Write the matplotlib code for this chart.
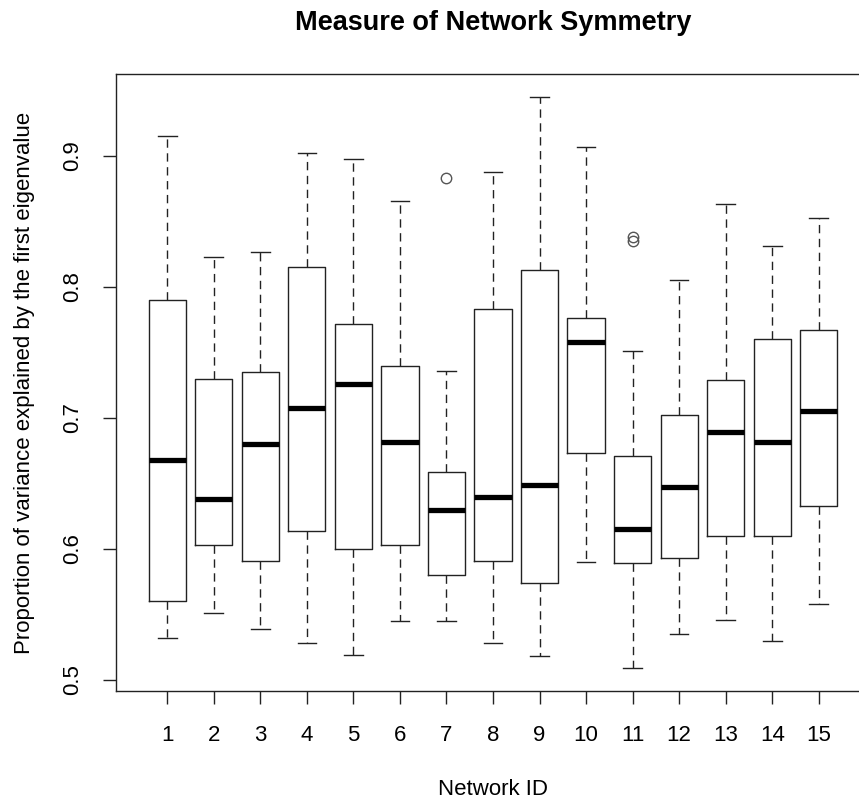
import numpy as np
import matplotlib
matplotlib.use("Agg")
import matplotlib.pyplot as plt

plt.rcParams['font.family'] = ['Liberation Sans', 'DejaVu Sans']

# five-number summaries per network
network_ids = [str(i) for i in range(1, 16)]
whisk_lo = [0.532, 0.551, 0.539, 0.528, 0.519, 0.545, 0.545, 0.528, 0.518, 0.590, 0.509, 0.535, 0.546, 0.530, 0.558]
q1 = [0.560, 0.603, 0.591, 0.614, 0.600, 0.603, 0.580, 0.591, 0.574, 0.673, 0.589, 0.593, 0.610, 0.610, 0.633]
med = [0.668, 0.638, 0.680, 0.708, 0.726, 0.682, 0.630, 0.640, 0.649, 0.758, 0.615, 0.647, 0.689, 0.682, 0.705]
q3 = [0.790, 0.730, 0.735, 0.815, 0.772, 0.740, 0.659, 0.783, 0.813, 0.776, 0.671, 0.702, 0.729, 0.760, 0.767]
whisk_hi = [0.915, 0.823, 0.827, 0.902, 0.898, 0.866, 0.736, 0.888, 0.945, 0.907, 0.751, 0.805, 0.863, 0.831, 0.853]
outliers = [[], [], [], [], [], [], [0.883], [], [], [], [0.838, 0.835], [], [], [], []]

stats = []
for i in range(len(network_ids)):
    stats.append(dict(label=network_ids[i], whislo=whisk_lo[i], q1=q1[i], med=med[i],
                      q3=q3[i], whishi=whisk_hi[i], fliers=outliers[i]))

W, H = 859, 802
fig = plt.figure(figsize=(W / 100, H / 100), dpi=100)
# plot region runs past the right edge of the figure
ax = fig.add_axes([116 / W, (H - 691) / H, (870 - 116) / W, (691 - 74) / H])

line_col = '#222222'
ax.bxp(stats, positions=np.arange(1, 16), widths=0.8, showfliers=True,
       boxprops=dict(color=line_col, linewidth=1.0),
       whiskerprops=dict(color=line_col, linewidth=1.0, linestyle=(0, (6, 4))),
       capprops=dict(color=line_col, linewidth=1.0),
       capwidths=0.4,
       medianprops=dict(color='black', linewidth=3.8, solid_capstyle='butt'),
       flierprops=dict(marker='o', markerfacecolor='none', markeredgecolor='#555555',
                       markersize=7.5, markeredgewidth=1.0))

ax.set_xlim(-0.1, 16.1)
ax.set_ylim(0.4916, 0.9626)

ax.set_yticks([0.5, 0.6, 0.7, 0.8, 0.9])
ax.set_yticklabels(['0.5', '0.6', '0.7', '0.8', '0.9'], rotation=90, va='center')
ax.set_xticks(np.arange(1, 16))
ax.set_xticklabels(network_ids)
ax.tick_params(axis='both', length=9.5, width=1.0, color=line_col, labelsize=16)
ax.tick_params(axis='x', pad=15)
ax.tick_params(axis='y', pad=14)

for s in ax.spines.values():
    s.set_color(line_col)
    s.set_linewidth(1.0)

ax.set_title('Measure of Network Symmetry', fontsize=19.5, fontweight='bold', pad=32)
ax.set_xlabel('Network ID', fontsize=16, labelpad=24)
ax.set_ylabel('Proportion of variance explained by the first eigenvalue', fontsize=16, labelpad=20)

fig.savefig('out.png', dpi=100)
